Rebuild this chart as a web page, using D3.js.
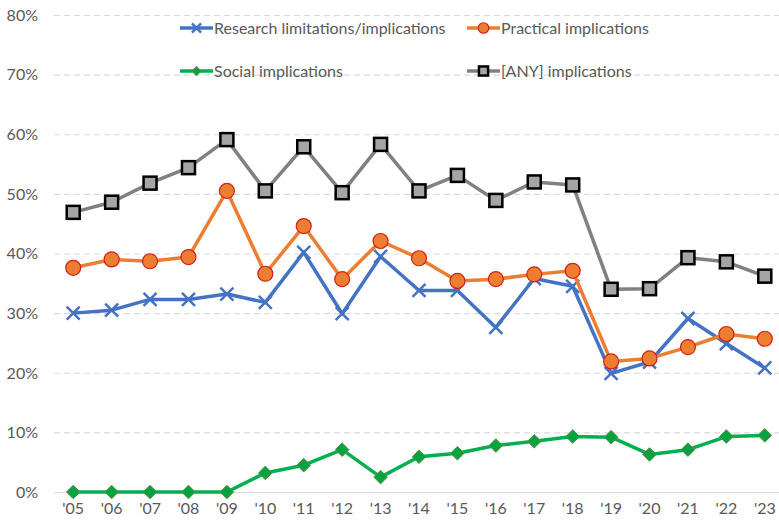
<!DOCTYPE html>
<html>
<head>
<meta charset="utf-8">
<script src="https://cdn.jsdelivr.net/npm/d3@7"></script>
<style>
  body { margin: 0; background: #fff; }
  svg { display: block; font-family: Lato, "Open Sans", sans-serif; }
</style>
</head>
<body>
<div id="plot"></div>
<script>
// values, in percent
const years = ["'05", "'06", "'07", "'08", "'09", "'10", "'11", "'12", "'13", "'14",
               "'15", "'16", "'17", "'18", "'19", "'20", "'21", "'22", "'23"];
const research = [30.0, 30.5, 32.3, 32.3, 33.2, 31.8, 40.2, 29.9, 39.5, 33.8,
                  33.8, 27.6, 35.8, 34.5, 19.9, 21.8, 29.1, 24.9, 20.8];
const practical = [37.6, 39.0, 38.7, 39.4, 50.5, 36.6, 44.6, 35.7, 42.1, 39.2,
                   35.4, 35.7, 36.5, 37.1, 21.9, 22.4, 24.3, 26.5, 25.7];
const social = [0, 0, 0, 0, 0, 3.2, 4.5, 7.1, 2.5, 5.9,
                6.5, 7.8, 8.5, 9.3, 9.2, 6.3, 7.1, 9.3, 9.5];
const anyImpl = [46.9, 48.6, 51.8, 54.4, 59.1, 50.5, 57.9, 50.2, 58.3, 50.5,
                 53.1, 48.9, 52.0, 51.5, 34.0, 34.1, 39.3, 38.6, 36.2];
const yTicks = [0, 10, 20, 30, 40, 50, 60, 70, 80];

const series = [
  { name: "Research limitations/implications", values: research, color: "#4472C4", marker: "x" },
  { name: "Practical implications", values: practical, color: "#ED7D31", marker: "circle" },
  { name: "Social implications", values: social, color: "#00B050", marker: "diamond" },
  { name: "[ANY] implications", values: anyImpl, color: "#808080", marker: "square" }
];

const width = 779, height = 521;
const margin = { top: 15, right: -5, bottom: 29, left: 54 };

const svg = d3.select("#plot").append("svg")
    .attr("width", width)
    .attr("height", height);

const x = d3.scaleBand()
    .domain(years)
    .range([margin.left, width - margin.right]);

const y = d3.scaleLinear()
    .domain([0, 80])
    .range([height - margin.bottom, margin.top]);

// gridlines
svg.append("g")
  .selectAll("line")
  .data(yTicks)
  .enter().append("line")
    .attr("x1", margin.left)
    .attr("x2", width - margin.right)
    .attr("y1", d => y(d) + 0.5)
    .attr("y2", d => y(d) + 0.5)
    .attr("stroke", "#d9d9d9")
    .attr("stroke-width", 1.2)
    .attr("stroke-dasharray", d => d === 0 ? null : "6,4");

// y labels
svg.append("g")
  .selectAll("text")
  .data(yTicks)
  .enter().append("text")
    .attr("x", 38)
    .attr("y", d => y(d))
    .attr("dy", "0.36em")
    .attr("text-anchor", "end")
    .attr("fill", "#595959")
    .style("font-size", "16px")
    .text(d => d + "%");

// x labels
svg.append("g")
  .selectAll("text")
  .data(years)
  .enter().append("text")
    .attr("x", d => x(d) + x.bandwidth() / 2)
    .attr("y", height - 7)
    .attr("text-anchor", "middle")
    .attr("fill", "#595959")
    .style("font-size", "16px")
    .text(d => d);

function drawMarker(g, type, color, s) {
  if (type === "x") {
    g.append("path")
      .attr("d", `M${-s},${-s}L${s},${s}M${-s},${s}L${s},${-s}`)
      .attr("stroke", color).attr("stroke-width", 2.5).attr("fill", "none");
  } else if (type === "circle") {
    g.append("circle").attr("r", s)
      .attr("fill", "#ED7D31").attr("stroke", "#D0201A").attr("stroke-width", 1.2);
  } else if (type === "diamond") {
    g.append("path")
      .attr("d", `M0,${-s}L${s},0L0,${s}L${-s},0Z`)
      .attr("fill", "#00A344").attr("stroke", "#6E8B3D").attr("stroke-width", 1);
  } else {
    g.append("rect")
      .attr("x", -s).attr("y", -s).attr("width", 2 * s).attr("height", 2 * s)
      .attr("fill", "#A5A5A5").attr("stroke", "#000").attr("stroke-width", 2.5);
  }
}

const markerSize = { x: 6.5, circle: 7.5, diamond: 6.8, square: 6.5 };

const line = d3.line()
    .x((d, i) => x(years[i]) + x.bandwidth() / 2)
    .y(d => y(d));

series.forEach(s => {
  svg.append("path")
    .datum(s.values)
    .attr("d", line)
    .attr("fill", "none")
    .attr("stroke", s.color)
    .attr("stroke-width", 3.5)
    .attr("stroke-linejoin", "round");

  s.values.forEach((v, i) => {
    const g = svg.append("g")
      .attr("transform", `translate(${x(years[i]) + x.bandwidth() / 2},${y(v)})`);
    drawMarker(g, s.marker, s.color, markerSize[s.marker]);
  });
});

// legend, two columns and two rows
const legendPos = [[180, 28], [467, 28], [180, 71], [467, 71]];
series.forEach((s, i) => {
  const [lx, ly] = legendPos[i];
  const g = svg.append("g").attr("transform", `translate(${lx},${ly})`);
  g.append("line")
    .attr("x1", 0).attr("x2", 33)
    .attr("stroke", s.color).attr("stroke-width", 3.5);
  const m = g.append("g").attr("transform", "translate(16.5,0)");
  drawMarker(m, s.marker, s.color, markerSize[s.marker] * 0.7);
  g.append("text")
    .attr("x", 34)
    .attr("dy", "0.36em")
    .attr("fill", "#595959")
    .style("font-size", "16px")
    .text(s.name);
});
</script>
</body>
</html>
